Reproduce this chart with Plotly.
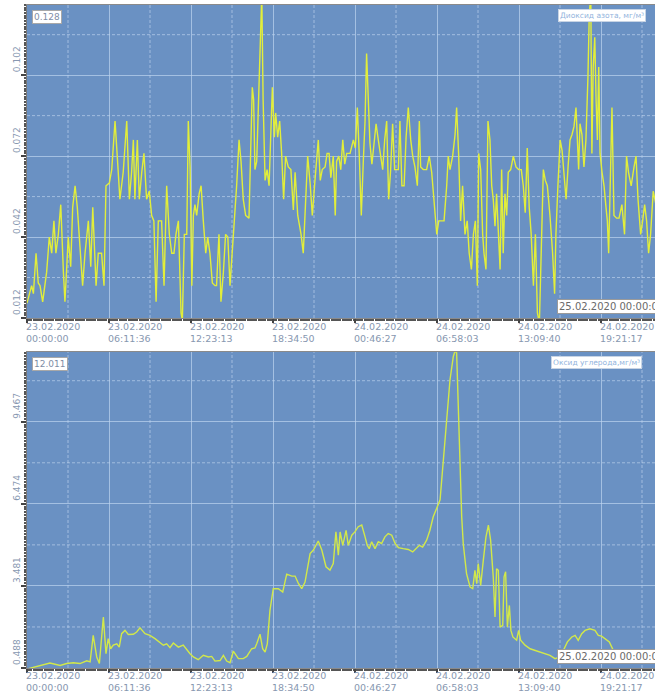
import pandas as pd
import plotly.graph_objects as go

# ---------------- data ----------------
start_time = "2020-02-23 00:00:00"
x_end = "2020-02-24 23:26:00"

# Nitrogen dioxide (mg/m3): minutes since start, values
no2_minutes = [0, 21, 29, 41, 51, 59, 71, 89, 101, 112, 122, 131, 142, 153, 165, 172, 187, 198, 207, 218,
               228, 240, 252, 263, 278, 289, 298, 313, 323, 338, 349, 358, 373, 384, 399, 409, 421, 436, 452, 464,
               474, 482, 489, 500, 509, 520, 530, 542, 554, 565, 575, 585, 595, 610, 621, 633, 645, 656, 666, 675,
               686, 698, 704, 713, 724, 731, 739, 747, 754, 761, 769, 780, 789, 799, 810, 819, 829, 840, 852, 859,
               870, 879, 890, 900, 910, 920, 930, 940, 950, 961, 970, 980, 991, 1006, 1015, 1021, 1027, 1033, 1041, 1048,
               1057, 1064, 1070, 1079, 1088, 1097, 1112, 1121, 1127, 1136, 1145, 1154, 1163, 1172, 1184, 1196, 1207, 1215, 1227, 1242,
               1252, 1263, 1272, 1283, 1293, 1305, 1320, 1329, 1338, 1351, 1360, 1369, 1377, 1388, 1397, 1403, 1413, 1422, 1431, 1440,
               1449, 1464, 1479, 1488, 1497, 1506, 1515, 1524, 1532, 1539, 1547, 1554, 1563, 1573, 1582, 1592, 1603, 1612, 1621, 1630,
               1639, 1648, 1657, 1666, 1675, 1683, 1690, 1699, 1709, 1718, 1728, 1739, 1748, 1758, 1769, 1778, 1784, 1796, 1811, 1823,
               1834, 1844, 1857, 1866, 1879, 1890, 1902, 1909, 1917, 1929, 1940, 1947, 1956, 1965, 1974, 1985, 1995, 2004, 2014, 2023,
               2032, 2041, 2047, 2056, 2065, 2071, 2080, 2089, 2098, 2106, 2113, 2121, 2128, 2136, 2144, 2151, 2158, 2166, 2174, 2181,
               2192, 2204, 2216, 2228, 2240, 2249, 2258, 2267, 2276, 2285, 2295, 2304, 2313, 2322, 2331, 2340, 2349, 2358, 2370, 2382,
               2391, 2397, 2406, 2416, 2425, 2434, 2443, 2452, 2461, 2470, 2479, 2488, 2494, 2500, 2506, 2515, 2524, 2533, 2542, 2548,
               2555, 2560, 2566, 2573, 2579, 2585, 2591, 2597, 2606, 2615, 2624, 2630, 2636, 2642, 2651, 2660, 2672, 2683, 2696, 2708,
               2717, 2726, 2738, 2751, 2760, 2769, 2781, 2790, 2799, 2808, 2817, 2826, 2838, 2860]
no2_values = [0.0175, 0.024, 0.021, 0.036, 0.025, 0.024, 0.018, 0.029, 0.042, 0.036, 0.048, 0.036, 0.043, 0.054, 0.029, 0.018, 0.042, 0.031, 0.053, 0.061,
              0.053, 0.037, 0.024, 0.036, 0.048, 0.031, 0.053, 0.024, 0.036, 0.036, 0.024, 0.061, 0.062, 0.067, 0.085, 0.072, 0.056, 0.066, 0.085, 0.056,
              0.066, 0.078, 0.056, 0.078, 0.056, 0.066, 0.073, 0.056, 0.059, 0.050, 0.048, 0.018, 0.048, 0.048, 0.024, 0.061, 0.043, 0.036, 0.036, 0.043,
              0.048, 0.014, 0.011, 0.043, 0.043, 0.085, 0.068, 0.024, 0.050, 0.054, 0.050, 0.058, 0.061, 0.048, 0.036, 0.042, 0.036, 0.025, 0.024, 0.024,
              0.043, 0.018, 0.029, 0.043, 0.042, 0.024, 0.036, 0.048, 0.061, 0.078, 0.070, 0.056, 0.050, 0.049, 0.073, 0.0975, 0.093, 0.067, 0.070, 0.090,
              0.120, 0.132, 0.093, 0.063, 0.067, 0.061, 0.0975, 0.079, 0.088, 0.079, 0.085, 0.073, 0.056, 0.072, 0.068, 0.067, 0.052, 0.066, 0.050, 0.043,
              0.036, 0.056, 0.072, 0.062, 0.050, 0.063, 0.078, 0.063, 0.067, 0.068, 0.073, 0.073, 0.064, 0.072, 0.050, 0.070, 0.072, 0.067, 0.078, 0.069,
              0.073, 0.073, 0.078, 0.075, 0.090, 0.072, 0.050, 0.070, 0.085, 0.110, 0.095, 0.077, 0.069, 0.078, 0.084, 0.078, 0.072, 0.067, 0.078, 0.085,
              0.056, 0.067, 0.084, 0.067, 0.067, 0.067, 0.085, 0.061, 0.061, 0.079, 0.090, 0.078, 0.072, 0.068, 0.061, 0.085, 0.068, 0.067, 0.067, 0.072,
              0.066, 0.056, 0.043, 0.048, 0.048, 0.048, 0.061, 0.072, 0.067, 0.072, 0.080, 0.090, 0.073, 0.048, 0.061, 0.043, 0.048, 0.036, 0.030, 0.043,
              0.048, 0.024, 0.073, 0.067, 0.043, 0.036, 0.030, 0.085, 0.078, 0.061, 0.056, 0.046, 0.058, 0.043, 0.030, 0.067, 0.036, 0.058, 0.050, 0.066,
              0.067, 0.072, 0.068, 0.067, 0.067, 0.061, 0.051, 0.075, 0.053, 0.043, 0.024, 0.043, 0.014, 0.010, 0.043, 0.067, 0.063, 0.061, 0.050, 0.036,
              0.021, 0.043, 0.061, 0.078, 0.074, 0.063, 0.056, 0.068, 0.078, 0.080, 0.083, 0.090, 0.078, 0.067, 0.084, 0.080, 0.068, 0.078, 0.101, 0.124,
              0.132, 0.073, 0.105, 0.116, 0.093, 0.078, 0.105, 0.073, 0.066, 0.061, 0.053, 0.048, 0.036, 0.061, 0.090, 0.050, 0.049, 0.049, 0.054, 0.043,
              0.072, 0.066, 0.061, 0.068, 0.072, 0.056, 0.043, 0.048, 0.054, 0.048, 0.036, 0.043, 0.059, 0.050]

# Carbon monoxide (mg/m3): minutes since start, values
co_minutes = [0, 89, 104, 150, 180, 210, 240, 271, 286, 300, 316, 328, 346, 358, 368, 379, 391, 407, 418, 429,
              444, 459, 482, 497, 512, 535, 557, 580, 603, 618, 633, 648, 663, 686, 708, 724, 739, 754, 776, 799,
              822, 837, 852, 875, 890, 905, 920, 935, 958, 980, 996, 1018, 1033, 1041, 1056, 1068, 1079, 1089, 1101, 1116,
              1139, 1159, 1177, 1200, 1215, 1230, 1245, 1260, 1283, 1298, 1320, 1336, 1355, 1373, 1388, 1400, 1411, 1419, 1431, 1446,
              1456, 1472, 1486, 1501, 1517, 1532, 1542, 1551, 1562, 1577, 1592, 1607, 1622, 1637, 1653, 1668, 1683, 1705, 1728, 1748,
              1763, 1778, 1793, 1811, 1826, 1841, 1872, 1894, 1917, 1932, 1940, 1947, 1955, 1962, 1970, 1977, 1992, 2008, 2020, 2030,
              2038, 2045, 2056, 2068, 2080, 2091, 2101, 2113, 2121, 2128, 2136, 2144, 2156, 2162, 2169, 2177, 2186, 2193, 2202, 2219,
              2228, 2237, 2257, 2280, 2302, 2325, 2348, 2370, 2393, 2416, 2431, 2449, 2469, 2484, 2498, 2514, 2529, 2551, 2574, 2589,
              2604, 2624, 2639, 2657, 2672, 2695, 2718, 2748, 2793, 2816, 2846, 2870]
co_values = [0.45, 0.65, 0.67, 0.58, 0.65, 0.68, 0.65, 0.75, 0.71, 1.68, 0.89, 0.65, 2.35, 1.01, 1.56, 1.19, 1.32, 1.37, 1.25, 1.74,
             1.86, 1.71, 1.72, 1.80, 1.95, 1.74, 1.68, 1.56, 1.40, 1.32, 1.37, 1.23, 1.40, 1.25, 1.32, 1.15, 1.01, 0.89, 0.79, 0.95,
             0.89, 0.91, 0.74, 0.76, 0.95, 0.74, 0.68, 1.10, 0.83, 0.83, 0.91, 1.19, 1.22, 1.37, 1.72, 1.19, 1.07, 1.37, 2.59, 3.38,
             3.38, 3.26, 3.91, 3.84, 3.84, 3.57, 3.38, 3.62, 4.66, 4.79, 5.12, 4.79, 4.18, 4.06, 4.30, 5.45, 4.60, 5.45, 4.96, 5.51,
             4.96, 5.33, 5.45, 5.64, 5.70, 5.27, 4.96, 4.84, 5.09, 4.84, 5.09, 5.03, 5.27, 5.39, 5.33, 5.03, 4.88, 4.84, 4.81, 4.72,
             4.84, 4.96, 4.90, 5.15, 5.51, 6.00, 6.62, 8.81, 11.00, 11.85, 12.05, 11.98, 10.03, 7.60, 6.00, 5.02, 3.93, 3.44, 3.38, 4.05,
             3.56, 4.30, 3.50, 4.42, 5.27, 5.70, 5.15, 3.81, 2.35, 4.11, 4.05, 1.98, 2.04, 3.81, 4.00, 1.98, 2.77, 1.86, 1.62, 1.50,
             1.86, 1.50, 1.32, 1.19, 1.13, 1.07, 1.03, 0.95, 0.83, 0.89, 1.13, 1.44, 1.62, 1.68, 1.50, 1.74, 1.86, 1.92, 1.86, 1.68,
             1.65, 1.53, 1.44, 1.13, 1.01, 1.07, 0.89, 0.89, 1.13, 1.01, 0.95, 0.90]

x_tick_labels = ["23.02.2020 00:00:00", "23.02.2020 06:11:36", "23.02.2020 12:23:13", "23.02.2020 18:34:50",
                 "24.02.2020 00:46:27", "24.02.2020 06:58:03", "24.02.2020 13:09:40", "24.02.2020 19:21:17"]
no2_ticks = [0.012, 0.042, 0.072, 0.102]
no2_max_label = "0.128"
co_ticks = [0.488, 3.481, 6.474, 9.467]
co_max_label = "12.011"
no2_title = "Диоксид азота, мг/м³"
co_title = "Оксид углерода,мг/м³"
end_label = "25.02.2020 00:00:00"

# ---------------- build ----------------
t0 = pd.Timestamp(start_time)
no2_t = [t0 + pd.Timedelta(minutes=m) for m in no2_minutes]
co_t = [t0 + pd.Timedelta(minutes=m) for m in co_minutes]
tick_times = [pd.to_datetime(s, format="%d.%m.%Y %H:%M:%S") for s in x_tick_labels]
tick_texts = [s.replace(" ", "<br>") for s in x_tick_labels]
x_mid = [tick_times[i] + (tick_times[i + 1] - tick_times[i]) / 2 for i in range(len(tick_times) - 1)]
x_mid.append(tick_times[-1] + (tick_times[-1] - tick_times[-2]) / 2)

BG = "#6a91c3"
GRID = "rgba(190,212,240,0.7)"
DASH = "rgba(200,218,242,0.6)"
LABEL = "#8797b0"
FONT = "DejaVu Sans"

W, H = 655, 697
panels = [
    dict(y0=318, y1=5, ticks=no2_ticks, maxlab=no2_max_label, rng=[0.012, 0.128], title=no2_title,
         tx=no2_t, vy=no2_values, color="#e2ee3a", title_x=558, label_y=332.5),
    dict(y0=668, y1=352, ticks=co_ticks, maxlab=co_max_label, rng=[0.488, 12.011], title=co_title,
         tx=co_t, vy=co_values, color="#d2e84a", title_x=551, label_y=681.5),
]

fig = go.Figure()
layout = dict(width=W, height=H, margin=dict(l=27, r=0, t=0, b=0), paper_bgcolor="white",
              plot_bgcolor=BG, showlegend=False, font=dict(family=FONT, size=9, color=LABEL))
annotations = []
shapes = []

for i, p in enumerate(panels, start=1):
    xa = "xaxis" if i == 1 else f"xaxis{i}"
    ya = "yaxis" if i == 1 else f"yaxis{i}"
    xr = "x" if i == 1 else f"x{i}"
    yr = "y" if i == 1 else f"y{i}"
    step = p["ticks"][1] - p["ticks"][0]
    layout[xa] = dict(domain=[0, 1], anchor=yr, type="date", range=[t0, pd.Timestamp(x_end)],
                      tickvals=tick_times, showticklabels=False, ticks="outside", ticklen=4, tickwidth=2,
                      tickcolor="#444", showgrid=True, gridcolor=GRID, gridwidth=1, zeroline=False,
                      showline=True, linecolor="#8a8a8a", linewidth=1, mirror=True,
                      minor=dict(ticks="outside", ticklen=2, tickcolor="#555", dtick=600000, tick0=t0,
                                 showgrid=False))
    layout[ya] = dict(domain=[1 - p["y0"] / H, 1 - p["y1"] / H], anchor=xr, range=p["rng"],
                      tickvals=p["ticks"], showticklabels=False, ticks="outside", ticklen=5, tickwidth=2,
                      tickcolor="#444", showgrid=True, gridcolor=GRID, gridwidth=1, zeroline=False,
                      showline=True, linecolor="#777", linewidth=1,
                      minor=dict(ticks="outside", ticklen=2, tickcolor="#555", dtick=step / 30,
                                 tick0=p["ticks"][0], showgrid=False))
    fig.add_trace(go.Scatter(x=p["tx"], y=p["vy"], mode="lines", xaxis=xr, yaxis=yr,
                             line=dict(color=p["color"], width=1.4), hoverinfo="skip"))
    # dashed intermediate grid
    for xm in x_mid:
        shapes.append(dict(type="line", xref=xr, yref=f"{yr} domain", x0=xm, x1=xm, y0=0, y1=1,
                           line=dict(color=DASH, width=1, dash="3px,2px"), layer="below"))
    for k in range(len(p["ticks"])):
        ym = p["ticks"][k] + step / 2
        shapes.append(dict(type="line", xref=f"{xr} domain", yref=yr, x0=0, x1=1, y0=ym, y1=ym,
                           line=dict(color=DASH, width=1, dash="3px,2px"), layer="below"))
    # y tick labels (rotated)
    for tv in p["ticks"]:
        annotations.append(dict(xref=f"{xr} domain", yref=yr, x=0, y=tv, xshift=-10, yshift=1,
                                text=f"{tv:.3f}", showarrow=False, textangle=-90,
                                xanchor="center", yanchor="bottom", font=dict(size=9, color=LABEL)))
    # x tick labels
    for tt, txt in zip(tick_times, tick_texts):
        annotations.append(dict(xref=xr, yref="paper", x=tt, y=1 - p["label_y"] / H, xshift=-3,
                                text=txt, showarrow=False, align="left", xanchor="left", yanchor="middle",
                                font=dict(size=9.5, color=LABEL)))
    # max value box
    annotations.append(dict(xref=f"{xr} domain", yref=f"{yr} domain", x=0, y=1, xshift=5, yshift=-5,
                            text=p["maxlab"], showarrow=False, xanchor="left", yanchor="top",
                            bgcolor="white", bordercolor="#a8a8a8", borderwidth=1, borderpad=1,
                            font=dict(size=9, color="#7f8ea6")))
    # series title box
    annotations.append(dict(xref="paper", yref=f"{yr} domain", x=(p["title_x"] - 27) / (W - 27), y=1,
                            yshift=-4, text=p["title"], showarrow=False, xanchor="left", yanchor="top",
                            bgcolor="white", bordercolor="#c8d4e4", borderwidth=1, borderpad=1,
                            font=dict(size=7.5, color="#93b4dd")))
    # end-date box
    annotations.append(dict(xref="paper", yref=f"{yr} domain", x=(557 - 27) / (W - 27), y=0, yshift=4,
                            text=end_label, showarrow=False, xanchor="left", yanchor="bottom",
                            bgcolor="white", bordercolor="#9a9a9a", borderwidth=1, borderpad=1,
                            font=dict(size=10, color="#6a6a6a")))

layout["annotations"] = annotations
layout["shapes"] = shapes
fig.update_layout(**layout)
fig.write_html("out.html", config={"displayModeBar": False},
               post_script="document.body.style.margin='0';document.body.style.overflow='hidden';")
